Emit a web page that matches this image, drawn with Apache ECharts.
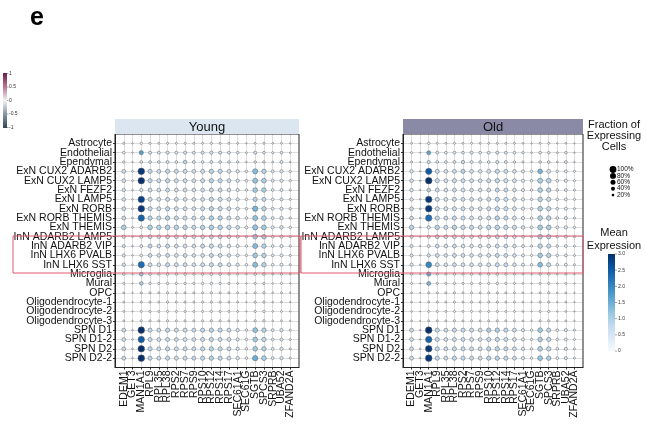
<!DOCTYPE html>
<html>
<head>
<meta charset="utf-8">
<script src="https://cdn.jsdelivr.net/npm/echarts@6/dist/echarts.min.js"></script>
<style>
html, body { margin: 0; padding: 0; background: #fff; }
#chart { width: 646px; height: 426px; }
</style>
</head>
<body>
<div id="chart"></div>
<script>
// Genes on the x axis, cell types on the y axis
const genes = ['EDEM1','GET3','MAN1A1','RPL9','RPL35','RPL38','RPS2','RPS7','RPS9','RPS10',
  'RPS12','RPS14','RPS17','SEC61A1','SEC61G','SGTB','SPCS3','SRPRB','UBA52','ZFAND2A'];

const cellTypes = ['Astrocyte','Endothelial','Ependymal','ExN CUX2 ADARB2','ExN CUX2 LAMP5',
  'ExN FEZF2','ExN LAMP5','ExN RORB','ExN RORB THEMIS','ExN THEMIS','InN ADARB2 LAMP5',
  'InN ADARB2 VIP','InN LHX6 PVALB','InN LHX6 SST','Microglia','Mural','OPC',
  'Oligodendrocyte-1','Oligodendrocyte-2','Oligodendrocyte-3','SPN D1','SPN D1-2','SPN D2','SPN D2-2'];

// Fraction of expressing cells (%), one row per cell type
const youngPct = [
  [15, 8, 18, 15, 14, 15, 14, 15, 14, 14, 15, 14, 14, 12, 8, 14, 15, 10, 12, 8],
  [22, 8, 45, 28, 26, 28, 25, 30, 26, 28, 30, 28, 25, 22, 12, 28, 22, 15, 22, 10],
  [18, 8, 22, 22, 22, 25, 22, 35, 25, 22, 25, 22, 20, 18, 10, 20, 20, 12, 25, 10],
  [40, 12, 95, 45, 40, 45, 42, 42, 38, 42, 48, 45, 38, 32, 20, 62, 50, 25, 30, 18],
  [38, 12, 95, 45, 42, 45, 42, 42, 38, 42, 48, 45, 40, 32, 22, 60, 55, 25, 30, 18],
  [32, 10, 30, 40, 38, 40, 38, 38, 35, 38, 42, 40, 35, 28, 18, 55, 52, 22, 25, 15],
  [35, 10, 92, 42, 38, 42, 40, 38, 36, 40, 45, 42, 38, 30, 20, 45, 42, 22, 28, 15],
  [38, 12, 95, 45, 40, 45, 42, 40, 38, 42, 48, 45, 40, 32, 20, 65, 50, 25, 30, 18],
  [40, 12, 90, 48, 42, 48, 45, 42, 40, 45, 50, 48, 42, 35, 22, 60, 55, 25, 32, 18],
  [55, 12, 22, 55, 50, 55, 52, 50, 45, 50, 55, 52, 48, 40, 25, 62, 58, 28, 35, 20],
  [30, 10, 28, 40, 35, 40, 38, 38, 35, 38, 42, 40, 35, 28, 18, 55, 52, 22, 28, 15],
  [28, 10, 25, 40, 35, 42, 38, 38, 35, 42, 45, 40, 35, 28, 18, 60, 50, 22, 28, 15],
  [28, 10, 22, 38, 35, 40, 38, 40, 35, 38, 42, 40, 35, 28, 18, 55, 50, 22, 28, 15],
  [32, 10, 88, 40, 36, 42, 40, 40, 36, 40, 44, 42, 36, 30, 20, 60, 50, 22, 28, 15],
  [20, 8, 38, 20, 18, 20, 18, 20, 18, 20, 22, 20, 18, 15, 10, 20, 22, 12, 18, 10],
  [15, 6, 35, 18, 16, 18, 16, 18, 16, 18, 20, 18, 16, 12, 8, 16, 18, 10, 15, 8],
  [12, 6, 15, 15, 14, 16, 14, 15, 14, 15, 16, 15, 14, 12, 8, 15, 18, 10, 12, 8],
  [12, 6, 14, 15, 14, 16, 14, 15, 14, 15, 16, 15, 14, 12, 8, 16, 18, 10, 12, 8],
  [12, 6, 14, 15, 14, 15, 14, 15, 14, 15, 16, 15, 14, 12, 8, 16, 18, 10, 12, 8],
  [12, 6, 15, 15, 14, 16, 14, 15, 14, 15, 16, 15, 14, 12, 8, 16, 18, 10, 12, 8],
  [40, 10, 95, 45, 40, 45, 42, 42, 40, 45, 48, 45, 40, 32, 20, 58, 50, 25, 30, 15],
  [38, 10, 90, 42, 38, 42, 40, 40, 38, 42, 45, 42, 38, 30, 20, 55, 48, 22, 28, 15],
  [40, 10, 95, 45, 40, 45, 42, 42, 40, 45, 48, 45, 40, 32, 20, 55, 50, 25, 30, 15],
  [40, 10, 95, 45, 40, 45, 42, 42, 40, 45, 48, 45, 40, 32, 20, 65, 55, 25, 30, 15]
];

// Mean expression, one row per cell type
const youngExpr = [
  [0.2,0.1,0.2,0.2,0.2,0.2,0.2,0.2,0.2,0.2,0.2,0.2,0.2,0.2,0.1,0.2,0.2,0.1,0.2,0.1],
  [0.3,0.1,1.7,0.6,0.5,0.6,0.5,0.6,0.5,0.6,0.6,0.6,0.5,0.4,0.2,0.6,0.4,0.3,0.5,0.2],
  [0.3,0.1,0.4,0.4,0.4,0.5,0.4,0.9,0.5,0.4,0.5,0.4,0.4,0.3,0.2,0.4,0.4,0.2,0.5,0.2],
  [0.7,0.2,2.9,0.8,0.7,0.8,0.7,0.7,0.6,0.7,0.9,0.8,0.6,0.5,0.3,1.3,0.9,0.4,0.5,0.3],
  [0.6,0.2,3.0,0.8,0.7,0.8,0.7,0.7,0.6,0.7,0.9,0.8,0.7,0.5,0.3,1.2,1.0,0.4,0.5,0.3],
  [0.5,0.2,0.5,0.7,0.6,0.7,0.6,0.6,0.6,0.6,0.8,0.7,0.6,0.4,0.3,1.1,1.0,0.3,0.4,0.2],
  [0.6,0.2,2.8,0.7,0.6,0.7,0.7,0.6,0.6,0.7,0.8,0.7,0.6,0.5,0.3,0.9,0.8,0.3,0.5,0.2],
  [0.7,0.2,2.9,0.8,0.7,0.8,0.7,0.7,0.6,0.7,0.9,0.8,0.7,0.5,0.3,1.4,0.9,0.4,0.5,0.3],
  [0.7,0.2,2.4,0.9,0.7,0.9,0.8,0.7,0.7,0.8,1.0,0.9,0.7,0.6,0.3,1.2,1.0,0.4,0.5,0.3],
  [1.0,0.2,0.4,1.0,0.9,1.0,0.9,0.9,0.8,0.9,1.0,0.9,0.8,0.7,0.4,1.2,1.1,0.4,0.6,0.3],
  [0.5,0.2,0.4,0.7,0.6,0.7,0.6,0.6,0.6,0.6,0.8,0.7,0.6,0.4,0.3,1.1,1.0,0.3,0.4,0.2],
  [0.5,0.2,0.4,0.8,0.6,0.8,0.7,0.6,0.6,0.8,0.8,0.7,0.6,0.4,0.3,1.3,0.9,0.3,0.4,0.2],
  [0.5,0.2,0.3,0.7,0.6,0.7,0.6,0.7,0.6,0.6,0.8,0.7,0.6,0.4,0.3,1.1,0.9,0.3,0.4,0.2],
  [0.6,0.2,2.3,0.7,0.6,0.8,0.7,0.7,0.6,0.7,0.8,0.8,0.6,0.5,0.3,1.3,0.9,0.3,0.4,0.2],
  [0.3,0.1,1.2,0.3,0.3,0.3,0.3,0.3,0.3,0.3,0.4,0.3,0.3,0.2,0.1,0.3,0.4,0.2,0.3,0.1],
  [0.2,0.1,1.1,0.3,0.3,0.3,0.3,0.3,0.3,0.3,0.3,0.3,0.3,0.2,0.1,0.3,0.3,0.1,0.2,0.1],
  [0.2,0.1,0.2,0.2,0.2,0.3,0.2,0.2,0.2,0.2,0.3,0.2,0.2,0.2,0.1,0.2,0.3,0.1,0.2,0.1],
  [0.2,0.1,0.2,0.2,0.2,0.3,0.2,0.2,0.2,0.2,0.3,0.2,0.2,0.2,0.1,0.3,0.3,0.1,0.2,0.1],
  [0.2,0.1,0.2,0.2,0.2,0.2,0.2,0.2,0.2,0.2,0.3,0.2,0.2,0.2,0.1,0.3,0.3,0.1,0.2,0.1],
  [0.2,0.1,0.2,0.2,0.2,0.3,0.2,0.2,0.2,0.2,0.3,0.2,0.2,0.2,0.1,0.3,0.3,0.1,0.2,0.1],
  [0.7,0.2,3.0,0.8,0.7,0.8,0.7,0.7,0.7,0.8,0.9,0.8,0.7,0.5,0.3,1.2,0.9,0.4,0.5,0.2],
  [0.6,0.2,2.5,0.7,0.6,0.7,0.7,0.6,0.6,0.7,0.8,0.7,0.6,0.5,0.3,1.1,0.8,0.3,0.5,0.2],
  [0.7,0.2,3.0,0.8,0.7,0.8,0.7,0.7,0.7,0.8,0.9,0.8,0.7,0.5,0.3,1.1,0.9,0.4,0.5,0.2],
  [0.7,0.2,3.0,0.8,0.7,0.8,0.7,0.7,0.7,0.8,0.9,0.8,0.7,0.5,0.3,1.5,1.0,0.4,0.5,0.2]
];

const oldPct = [
  [12, 6, 20, 14, 13, 14, 13, 14, 13, 13, 14, 13, 13, 11, 7, 13, 14, 9, 11, 7],
  [15, 6, 42, 25, 22, 25, 22, 26, 22, 25, 28, 25, 22, 18, 10, 22, 20, 12, 20, 8],
  [15, 6, 28, 22, 22, 25, 32, 25, 22, 22, 28, 25, 20, 16, 8, 20, 22, 12, 24, 8],
  [32, 10, 88, 42, 38, 40, 45, 38, 35, 40, 45, 42, 36, 28, 18, 55, 40, 20, 25, 15],
  [35, 10, 95, 45, 40, 45, 42, 40, 38, 42, 48, 45, 40, 30, 20, 60, 55, 22, 28, 15],
  [32, 8, 38, 40, 36, 40, 38, 36, 35, 38, 42, 40, 35, 28, 18, 55, 50, 20, 25, 15],
  [30, 10, 92, 42, 38, 42, 40, 38, 36, 40, 45, 42, 38, 28, 18, 52, 45, 20, 25, 15],
  [38, 10, 95, 44, 40, 44, 42, 40, 38, 42, 48, 45, 40, 30, 20, 55, 50, 22, 28, 15],
  [38, 10, 90, 45, 40, 45, 42, 40, 38, 42, 48, 45, 40, 30, 20, 55, 52, 22, 28, 15],
  [50, 10, 30, 50, 45, 50, 48, 45, 42, 48, 52, 48, 45, 35, 22, 58, 55, 25, 32, 18],
  [28, 8, 28, 38, 35, 38, 36, 35, 34, 36, 40, 38, 34, 26, 16, 52, 48, 20, 25, 14],
  [28, 8, 25, 38, 35, 38, 36, 35, 34, 36, 40, 38, 34, 26, 16, 50, 45, 20, 25, 14],
  [28, 8, 30, 40, 35, 40, 38, 36, 35, 38, 42, 40, 35, 26, 16, 55, 48, 20, 25, 14],
  [30, 8, 78, 40, 35, 40, 38, 36, 35, 38, 42, 40, 35, 28, 18, 58, 45, 20, 25, 14],
  [18, 6, 45, 18, 16, 18, 16, 18, 16, 18, 20, 18, 16, 13, 8, 18, 20, 10, 16, 8],
  [14, 6, 40, 16, 15, 16, 15, 16, 15, 16, 18, 16, 15, 12, 7, 15, 16, 9, 14, 7],
  [11, 5, 14, 14, 13, 15, 13, 14, 13, 14, 15, 14, 13, 11, 7, 14, 16, 9, 11, 7],
  [11, 5, 13, 14, 13, 15, 13, 14, 13, 14, 15, 14, 13, 11, 7, 15, 16, 9, 11, 7],
  [11, 5, 13, 14, 13, 14, 13, 14, 13, 14, 15, 14, 13, 11, 7, 15, 16, 9, 11, 7],
  [11, 5, 14, 14, 13, 15, 13, 14, 13, 14, 15, 14, 13, 11, 7, 15, 16, 9, 11, 7],
  [40, 8, 95, 45, 40, 45, 42, 42, 40, 48, 50, 45, 40, 30, 18, 55, 45, 22, 28, 14],
  [38, 8, 90, 42, 38, 42, 40, 40, 38, 44, 46, 42, 38, 28, 18, 52, 45, 20, 26, 14],
  [40, 8, 95, 45, 40, 45, 42, 42, 40, 46, 48, 45, 40, 30, 18, 55, 48, 22, 28, 14],
  [40, 8, 95, 45, 40, 45, 42, 42, 40, 46, 48, 45, 40, 30, 18, 58, 50, 22, 28, 14]
];

const oldExpr = [
  [0.2,0.1,0.2,0.2,0.2,0.2,0.2,0.2,0.2,0.2,0.2,0.2,0.2,0.1,0.1,0.2,0.2,0.1,0.2,0.1],
  [0.2,0.1,1.6,0.5,0.4,0.5,0.4,0.5,0.4,0.5,0.6,0.5,0.4,0.3,0.2,0.4,0.4,0.2,0.4,0.1],
  [0.2,0.1,0.7,0.4,0.4,0.5,0.8,0.5,0.4,0.4,0.6,0.5,0.4,0.3,0.1,0.4,0.4,0.2,0.5,0.1],
  [0.5,0.2,2.5,0.7,0.6,0.7,0.9,0.6,0.5,0.6,0.8,0.7,0.6,0.4,0.3,1.4,0.6,0.3,0.4,0.2],
  [0.6,0.2,3.0,0.7,0.6,0.7,0.7,0.6,0.6,0.7,0.8,0.7,0.6,0.4,0.3,1.0,0.9,0.3,0.4,0.2],
  [0.5,0.1,0.9,0.7,0.6,0.7,0.6,0.6,0.6,0.6,0.8,0.7,0.6,0.4,0.3,1.0,0.9,0.3,0.4,0.2],
  [0.5,0.2,2.9,0.7,0.6,0.7,0.7,0.6,0.6,0.7,0.8,0.7,0.6,0.4,0.3,0.9,0.7,0.3,0.4,0.2],
  [0.7,0.2,2.9,0.7,0.6,0.7,0.7,0.6,0.6,0.7,0.8,0.7,0.6,0.4,0.3,1.0,0.8,0.3,0.4,0.2],
  [0.7,0.2,2.3,0.8,0.7,0.8,0.7,0.6,0.6,0.7,0.9,0.8,0.6,0.5,0.3,1.0,0.9,0.3,0.5,0.2],
  [0.9,0.2,0.5,0.9,0.8,0.9,0.8,0.8,0.7,0.8,0.9,0.8,0.7,0.6,0.3,1.1,1.0,0.4,0.5,0.3],
  [0.5,0.1,0.5,0.7,0.6,0.7,0.6,0.6,0.6,0.6,0.7,0.7,0.6,0.4,0.2,1.0,0.9,0.3,0.4,0.2],
  [0.5,0.1,0.4,0.7,0.6,0.7,0.6,0.6,0.6,0.6,0.7,0.7,0.6,0.4,0.2,0.9,0.8,0.3,0.4,0.2],
  [0.5,0.1,0.6,0.7,0.6,0.7,0.6,0.6,0.6,0.6,0.8,0.7,0.6,0.4,0.2,1.1,0.9,0.3,0.4,0.2],
  [0.5,0.1,2.0,0.7,0.6,0.7,0.6,0.6,0.6,0.6,0.8,0.7,0.6,0.4,0.3,1.3,0.8,0.3,0.4,0.2],
  [0.3,0.1,1.6,0.3,0.3,0.3,0.3,0.3,0.3,0.3,0.4,0.3,0.3,0.2,0.1,0.3,0.4,0.2,0.3,0.1],
  [0.2,0.1,1.4,0.3,0.3,0.3,0.3,0.3,0.3,0.3,0.3,0.3,0.3,0.2,0.1,0.3,0.3,0.1,0.2,0.1],
  [0.2,0.1,0.2,0.2,0.2,0.3,0.2,0.2,0.2,0.2,0.3,0.2,0.2,0.2,0.1,0.2,0.3,0.1,0.2,0.1],
  [0.2,0.1,0.2,0.2,0.2,0.3,0.2,0.2,0.2,0.2,0.3,0.2,0.2,0.2,0.1,0.3,0.3,0.1,0.2,0.1],
  [0.2,0.1,0.2,0.2,0.2,0.2,0.2,0.2,0.2,0.2,0.3,0.2,0.2,0.2,0.1,0.3,0.3,0.1,0.2,0.1],
  [0.2,0.1,0.2,0.2,0.2,0.3,0.2,0.2,0.2,0.2,0.3,0.2,0.2,0.2,0.1,0.3,0.3,0.1,0.2,0.1],
  [0.7,0.2,3.0,0.8,0.7,0.8,0.7,0.7,0.7,1.0,1.0,0.8,0.7,0.5,0.3,1.1,0.8,0.3,0.5,0.2],
  [0.6,0.2,2.4,0.7,0.6,0.7,0.7,0.6,0.6,0.8,0.8,0.7,0.6,0.4,0.3,1.0,0.8,0.3,0.4,0.2],
  [0.7,0.2,2.9,0.8,0.7,0.8,0.7,0.7,0.7,0.9,0.9,0.8,0.7,0.5,0.3,1.0,0.8,0.3,0.5,0.2],
  [0.7,0.2,2.9,0.8,0.7,0.8,0.7,0.7,0.7,0.9,0.9,0.8,0.7,0.5,0.3,1.2,1.0,0.3,0.5,0.2]
];

// Legend scales
const fractionLevels = [100, 80, 60, 40, 20];
const expressionTicks = [0, 0.5, 1.0, 1.5, 2.0, 2.5, 3.0];
const scaledTicks = [1, 0.5, 0, -0.5, -1];

const FONT = '"Liberation Sans", Arial, Helvetica, sans-serif';
const BLUES = ['#f7fbff','#deebf7','#c6dbef','#9ecae1','#6baed6','#4292c6','#2171b5','#08519c','#08306b'];
const EXPR_MAX = 3;

// dot diameter from fraction of expressing cells
function dotSize(pct) { return 6.8 * Math.pow(pct / 100, 0.6); }

function toPoints(pct, expr) {
  const pts = [];
  pct.forEach((row, r) => row.forEach((p, g) => pts.push([g, r, p, expr[r][g]])));
  return pts;
}

const panelTop = 134, panelHeight = 233.5;
const panels = [
  { title: 'Young', left: 115, width: 184, head: '#dce6f1', pct: youngPct, expr: youngExpr },
  { title: 'Old',   left: 403, width: 180, head: '#8b8aa6', pct: oldPct,   expr: oldExpr }
];

const geneIdx = genes.map((_, i) => i);
const cellIdx = cellTypes.map((_, i) => i);

const grids = [], xAxes = [], yAxes = [], series = [], graphics = [];

panels.forEach((p, i) => {
  grids.push({ left: p.left, top: panelTop, width: p.width, height: panelHeight,
    containLabel: false, outerBoundsMode: 'none' });
  xAxes.push({
    type: 'value', gridIndex: i, min: -1, max: genes.length, interval: 1, position: 'bottom',
    axisLine: { show: true, onZero: false, lineStyle: { color: '#222', width: 1 } },
    axisTick: { show: true, length: 2, customValues: geneIdx, lineStyle: { color: '#333' } },
    axisLabel: { show: true, rotate: 90, margin: 3, fontSize: 10.5, fontFamily: FONT, color: '#111',
      interval: 0, showMinLabel: true, showMaxLabel: true, hideOverlap: false,
      formatter: v => (v >= 0 && v < genes.length) ? genes[v] : '' },
    splitLine: { show: true, lineStyle: { color: '#d4d4d4', width: 0.8 } }
  });
  yAxes.push({
    type: 'value', gridIndex: i, min: -1, max: cellTypes.length, interval: 1, inverse: true,
    axisLine: { show: true, onZero: false, lineStyle: { color: '#222', width: 1 } },
    axisTick: { show: true, length: 2, customValues: cellIdx, lineStyle: { color: '#333' } },
    axisLabel: { show: true, margin: 3, fontSize: 10.5, fontFamily: FONT, color: '#111',
      padding: [3, 0, 0, 0],
      interval: 0, showMinLabel: true, showMaxLabel: true, hideOverlap: false,
      formatter: v => (v >= 0 && v < cellTypes.length) ? cellTypes[v] : '' },
    splitLine: { show: true, lineStyle: { color: '#d4d4d4', width: 0.8 } }
  });
  series.push({
    type: 'scatter', xAxisIndex: i, yAxisIndex: i,
    data: toPoints(p.pct, p.expr),
    symbolSize: v => dotSize(v[2]),
    itemStyle: { borderColor: '#5b5b5b', borderWidth: 0.5, opacity: 1 },
    z: 5
  });
  // panel frame and strip header
  graphics.push({ type: 'rect', z: 50, silent: true,
    shape: { x: p.left, y: panelTop, width: p.width, height: panelHeight },
    style: { fill: null, stroke: '#222', lineWidth: 1 } });
  graphics.push({ type: 'rect', z: 50, silent: true,
    shape: { x: p.left, y: 119, width: p.width, height: 15 },
    style: { fill: p.head, stroke: null } });
  graphics.push({ type: 'text', z: 51, silent: true,
    style: { x: p.left + p.width / 2, y: 127, text: p.title, fill: '#111',
      font: '13px ' + FONT, textAlign: 'center', textVerticalAlign: 'middle' } });
});

// highlighted interneuron block
const boxColor = '#dc5a6e';
graphics.push({ type: 'rect', z: 60, silent: true,
  shape: { x: 13, y: 236, width: 287, height: 37 },
  style: { fill: null, stroke: boxColor, lineWidth: 1 } });
graphics.push({ type: 'rect', z: 60, silent: true,
  shape: { x: 301, y: 236, width: 282, height: 37 },
  style: { fill: null, stroke: boxColor, lineWidth: 1 } });

// panel letter
graphics.push({ type: 'text', silent: true,
  style: { x: 30, y: 31, text: 'e', fill: '#000', font: 'bold 25px ' + FONT,
    textAlign: 'left', textVerticalAlign: 'bottom' } });

// scaled-expression key (top left)
graphics.push({ type: 'rect', silent: true,
  shape: { x: 3, y: 73, width: 4, height: 55 },
  style: { fill: new echarts.graphic.LinearGradient(0, 0, 0, 1, [
    { offset: 0, color: '#6b1d45' }, { offset: 0.25, color: '#b87592' },
    { offset: 0.5, color: '#f3f3f3' }, { offset: 0.75, color: '#8796a2' },
    { offset: 1, color: '#2c4655' }]) } });
scaledTicks.forEach(v => {
  const y = 100.5 - v * 27;
  graphics.push({ type: 'line', silent: true, shape: { x1: 7, y1: y, x2: 8.5, y2: y },
    style: { stroke: '#444', lineWidth: 0.5 } });
  graphics.push({ type: 'text', silent: true,
    style: { x: 9, y: y, text: String(v), fill: '#333', font: '5px ' + FONT,
      textAlign: 'left', textVerticalAlign: 'middle' } });
});

// size key
const legendX = 614;
['Fraction of', 'Expressing', 'Cells'].forEach((t, k) => {
  graphics.push({ type: 'text', silent: true,
    style: { x: legendX, y: 125 + k * 10.8, text: t, fill: '#111', font: '11px ' + FONT,
      textAlign: 'center', textVerticalAlign: 'middle' } });
});
fractionLevels.forEach((f, k) => {
  const cy = 169.5 + k * 6.4;
  graphics.push({ type: 'circle', silent: true,
    shape: { cx: 613, cy: cy, r: dotSize(f) / 2 }, style: { fill: '#000' } });
  graphics.push({ type: 'text', silent: true,
    style: { x: 617, y: cy, text: f + '%', fill: '#111', font: '6.5px ' + FONT,
      textAlign: 'left', textVerticalAlign: 'middle' } });
});

// colour key
['Mean', 'Expression'].forEach((t, k) => {
  graphics.push({ type: 'text', silent: true,
    style: { x: legendX, y: 233 + k * 12.5, text: t, fill: '#111', font: '11px ' + FONT,
      textAlign: 'center', textVerticalAlign: 'middle' } });
});
const barTop = 254, barH = 97;
graphics.push({ type: 'rect', silent: true,
  shape: { x: 608, y: barTop, width: 7, height: barH },
  style: { fill: new echarts.graphic.LinearGradient(0, 1, 0, 0,
    BLUES.map((c, k) => ({ offset: k / (BLUES.length - 1), color: c }))) } });
expressionTicks.forEach(v => {
  const y = barTop + barH - v / EXPR_MAX * barH;
  graphics.push({ type: 'line', silent: true, shape: { x1: 615, y1: y, x2: 617, y2: y },
    style: { stroke: '#444', lineWidth: 0.5 } });
  graphics.push({ type: 'text', silent: true,
    style: { x: 618, y: y, text: v === 0 ? '0' : v.toFixed(1), fill: '#333', font: '5px ' + FONT,
      textAlign: 'left', textVerticalAlign: 'middle' } });
});

const chart = echarts.init(document.getElementById('chart'), null, { renderer: 'canvas' });
chart.setOption({
  backgroundColor: '#fff',
  animation: false,
  grid: grids,
  xAxis: xAxes,
  yAxis: yAxes,
  visualMap: {
    type: 'continuous', show: false, min: 0, max: EXPR_MAX, dimension: 3,
    seriesIndex: [0, 1], inRange: { color: BLUES }
  },
  series: series,
  graphic: graphics
});
</script>
</body>
</html>
